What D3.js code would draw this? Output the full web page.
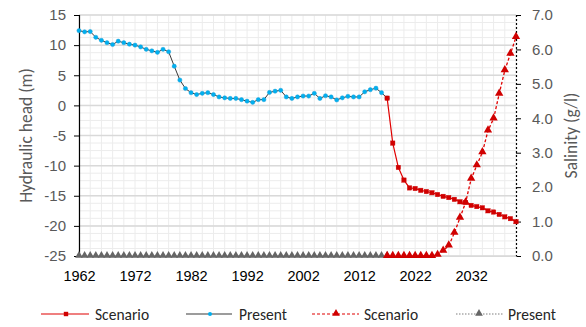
<!DOCTYPE html>
<html><head><meta charset="utf-8">
<script src="https://cdn.jsdelivr.net/npm/d3@7"></script>
<style>
html,body{margin:0;padding:0;background:#fff;}
svg{display:block;font-family:Calibri,Carlito,Lato,sans-serif;}
</style></head>
<body><svg id="c" width="586" height="327"></svg>
<script>
// ---- data ----
const firstYear = 1962, lastYear = 2040;
const xTickLabels = ["1962","1972","1982","1992","2002","2012","2022","2032"];
const headTicks = [15,10,5,0,-5,-10,-15,-20,-25];
const salTicks = [0,1,2,3,4,5,6,7];
const presentYears = [1962,2017];
const scenarioYears = [2017,2040];
const presentHead = [12.4,12.2,12.25,11.3,10.8,10.4,10.1,10.65,10.4,10.15,10.0,9.7,9.3,9.05,8.8,9.3,8.9,6.5,4.2,2.8,
  2.1,1.8,2.0,2.1,1.8,1.4,1.25,1.15,1.15,0.95,0.7,0.5,0.95,0.95,2.15,2.35,2.5,1.4,1.15,1.4,
  1.55,1.55,2.0,1.15,1.6,1.4,0.9,1.25,1.5,1.4,1.4,2.25,2.6,2.85,2.1,1.2];
const scenarioHead = [1.2,-6.26,-10.3,-12.4,-13.7,-13.8,-14.1,-14.3,-14.5,-14.8,-15.1,-15.3,-15.6,-16.0,-16.1,-16.6,
  -16.8,-17.0,-17.5,-17.7,-18.1,-18.5,-18.8,-19.3];
const presentSal = [0,0,0,0,0,0,0,0,0,0,0,0,0,0,0,0,0,0,0,0,0,0,0,0,0,0,0,0,0,0,0,0,0,0,0,0,0,0,0,0,
  0,0,0,0,0,0,0,0,0,0,0,0,0,0,0,0];
const scenarioSal = [0,0,0,0,0,0,0,0,0,0.03,0.15,0.3,0.67,1.11,1.55,2.24,2.63,3.01,3.64,3.99,4.71,5.39,5.87,6.36];
const legendLabels = ["Scenario","Present","Scenario","Present"];

// ---- layout ----
const L=79, R=516, T=15, B=256;
const svg=d3.select("#c");
const years=d3.range(firstYear,lastYear+1);
const x=d3.scalePoint().domain(years).range([L,R]);
const y=d3.scaleLinear().domain([-25,15]).range([B,T]);
const y2=d3.scaleLinear().domain([0,7]).range([B,T]);

const series=(vals,start)=>vals.map((v,i)=>({yr:start+i,v}));

// grid
const g=svg.append("g");
years.filter(d=>(d-firstYear)%2===0).forEach(d=>{
  g.append("line").attr("x1",x(d)).attr("x2",x(d)).attr("y1",T).attr("y2",B)
   .attr("stroke","#ececec").attr("stroke-width",1);
});
d3.range(-25,15.01,1.25).forEach(v=>{
  g.append("line").attr("x1",L).attr("x2",R).attr("y1",y(v)).attr("y2",y(v))
   .attr("stroke","#ececec").attr("stroke-width",1);
});
headTicks.forEach(v=>{
  g.append("line").attr("x1",L).attr("x2",R).attr("y1",y(v)).attr("y2",y(v))
   .attr("stroke","#d9d9d9").attr("stroke-width",1.5);
});

// left axis
const la=svg.append("g").attr("transform",`translate(${L},0)`)
  .call(d3.axisLeft(y).tickValues(headTicks).tickSize(5).tickPadding(8).tickFormat(d=>d));
la.select(".domain").attr("stroke","#000").attr("stroke-width",1.2);
la.selectAll(".tick line").attr("stroke","#000");
la.selectAll("text").attr("fill","#595959").style("font-size","15px");

// right axis
const ra=svg.append("g").attr("transform",`translate(${R},0)`)
  .call(d3.axisRight(y2).tickValues(salTicks).tickSize(5).tickPadding(11).tickFormat(d3.format(".1f")));
ra.select(".domain").attr("stroke","#000").attr("stroke-dasharray","2,2").attr("stroke-width",1.2);
ra.selectAll(".tick line").attr("stroke","#000");
ra.selectAll("text").attr("fill","#595959").style("font-size","15px");

// bottom axis
const ba=svg.append("g").attr("transform",`translate(0,${B})`)
  .call(d3.axisBottom(x).tickValues(xTickLabels.map(Number)).tickSize(0).tickPadding(15));
ba.select(".domain").attr("stroke","#d9d9d9");
ba.selectAll("text").attr("fill","#000").style("font-size","14.5px");

// axis titles
svg.append("text").attr("transform",`translate(32,${(T+B)/2}) rotate(-90)`)
  .attr("text-anchor","middle").attr("fill","#595959").style("font-size","17.5px").text("Hydraulic head (m)");
svg.append("text").attr("transform",`translate(577,${(T+B)/2}) rotate(-90)`)
  .attr("text-anchor","middle").attr("fill","#595959").style("font-size","17.5px").text("Salinity (g/l)");

const red="#e00000", redM="#d00000", gray="#7f7f7f", grayM="#666", blue="#00b0f0";

// present salinity (gray dotted)
const pSal=series(presentSal,presentYears[0]);
svg.append("path").datum(pSal).attr("fill","none").attr("stroke",gray).attr("stroke-width",1)
  .attr("stroke-dasharray","1.5,1.5").attr("d",d3.line().x(d=>x(d.yr)).y(d=>y2(d.v)));
svg.append("g").selectAll("path").data(pSal).join("path")
  .attr("transform",d=>`translate(${x(d.yr)},${y2(d.v)-0.5})`)
  .attr("d",d3.symbol(d3.symbolTriangle,26)).attr("fill",grayM);

// scenario salinity (red dashed)
const sSal=series(scenarioSal,scenarioYears[0]);
svg.append("path").datum(sSal).attr("fill","none").attr("stroke",red).attr("stroke-width",1.3)
  .attr("stroke-dasharray","3,2").attr("d",d3.line().x(d=>x(d.yr)).y(d=>y2(d.v)));
svg.append("g").selectAll("path").data(sSal).join("path")
  .attr("transform",d=>`translate(${x(d.yr)},${y2(d.v)-0.5})`)
  .attr("d",d3.symbol(d3.symbolTriangle,30)).attr("fill",redM);

// present head
const pH=series(presentHead,presentYears[0]);
svg.append("path").datum(pH).attr("fill","none").attr("stroke","#3a3a3a").attr("stroke-width",1)
  .attr("d",d3.line().x(d=>x(d.yr)).y(d=>y(d.v)));
svg.append("g").selectAll("circle").data(pH).join("circle")
  .attr("cx",d=>x(d.yr)).attr("cy",d=>y(d.v)).attr("r",2.1).attr("fill",blue).attr("stroke","#1a9fd6").attr("stroke-width",0.5);

// scenario head
const sH=series(scenarioHead,scenarioYears[0]);
svg.append("path").datum(sH).attr("fill","none").attr("stroke",red).attr("stroke-width",1.2)
  .attr("d",d3.line().x(d=>x(d.yr)).y(d=>y(d.v)));
svg.append("g").selectAll("rect").data(sH).join("rect")
  .attr("x",d=>x(d.yr)-2.2).attr("y",d=>y(d.v)-2.2).attr("width",4.4).attr("height",4.4)
  .attr("fill",redM).attr("stroke",redM).attr("stroke-width",0.4);

// legend
const ly=314;
const leg=svg.append("g");
const items=[
  {x1:41,x2:89,mx:66,tx:95,stroke:red,dash:null,mark:"sq",mf:redM},
  {x1:186,x2:232,mx:210,tx:239,stroke:"#3a3a3a",dash:null,mark:"dot",mf:blue},
  {x1:312,x2:359,mx:336,tx:364,stroke:red,dash:"3,2",mark:"tri",mf:redM},
  {x1:456,x2:503,mx:479,tx:508,stroke:gray,dash:"1.5,1.5",mark:"tri",mf:grayM}
];
items.forEach((it,i)=>{
  leg.append("line").attr("x1",it.x1).attr("x2",it.x2).attr("y1",ly).attr("y2",ly)
    .attr("stroke",it.stroke).attr("stroke-width",1.2).attr("stroke-dasharray",it.dash);
  if(it.mark==="sq") leg.append("rect").attr("x",it.mx-2.2).attr("y",ly-2.2).attr("width",4.4).attr("height",4.4).attr("fill",it.mf);
  else if(it.mark==="dot") leg.append("circle").attr("cx",it.mx).attr("cy",ly).attr("r",2).attr("fill",it.mf);
  else leg.append("path").attr("transform",`translate(${it.mx},${ly-0.5})`).attr("d",d3.symbol(d3.symbolTriangle,26)).attr("fill",it.mf);
  leg.append("text").attr("x",it.tx).attr("y",ly+5.5).attr("fill","#262626").style("font-size","15.5px").text(legendLabels[i]);
});
</script></body></html>
